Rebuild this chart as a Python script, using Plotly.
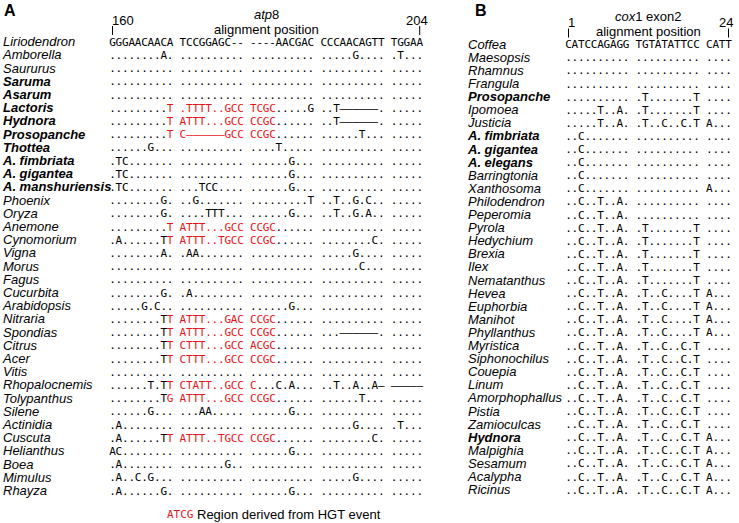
import plotly.graph_objects as go

# ---------------- panel A : atp8, alignment positions 160-204 ----------------
species_a = ["Liriodendron", "Amborella", "Saururus", "Saruma", "Asarum", "Lactoris",
             "Hydnora", "Prosopanche", "Thottea", "A. fimbriata", "A. gigantea",
             "A. manshuriensis", "Phoenix", "Oryza", "Anemone", "Cynomorium", "Vigna",
             "Morus", "Fagus", "Cucurbita", "Arabidopsis", "Nitraria", "Spondias",
             "Citrus", "Acer", "Vitis", "Rhopalocnemis", "Tolypanthus", "Silene",
             "Actinidia", "Cuscuta", "Helianthus", "Boea", "Mimulus", "Rhayza"]
bold_a = ["Saruma", "Asarum", "Lactoris", "Hydnora", "Prosopanche", "Thottea",
          "A. fimbriata", "A. gigantea", "A. manshuriensis"]
seqs_a = [
    "GGGAACAACA TCCGGAGC-- ----AACGAC CCCAACAGTT TGGAA",
    "........A. .......... .......... .....G.... .T...",
    ".......... .......... .......... .......... .....",
    ".......... .......... .......... .......... .....",
    ".......... .......... .......... .......... .....",
    ".........T .TTTT..GCC TCGC.....G ..T------. .....",
    ".........T ATTT...GCC CCGC...... ..T------. .....",
    ".........T C------GCC CCGC...... ......T... .....",
    "......G... .......... ....T..... .......... .....",
    ".TC....... .......... ......G... .......... .....",
    ".TC....... .......... ......G... .......... .....",
    ".TC....... ...TCC.... ......G... .......... .....",
    "........G. ..G....... .........T ..T..G.C.. .....",
    "........G. ....TTT... ......G... ..T..G.A.. .....",
    ".........T ATTT...GCC CCGC...... .......... .....",
    ".A......TT ATTT..TGCC CCGC...... ........C. .....",
    "........A. .AA....... .......... .....G.... .....",
    ".......... .......... .......... ......C... .....",
    ".......... .......... .......... .......... .....",
    "........G. .A........ .......... .......... .....",
    ".....G.C.. .......... ......G... .......... .....",
    "........TT ATTT...GAC CCGC...... .......... .....",
    "........TT ATTT...GCC CCGC...... ...------. .....",
    "........TT CTTT...GCC ACGC...... .......... .....",
    "........TT CTTT...GCC CCGC...... .......... .....",
    ".......... .......... .......... .......... .....",
    "......T.TT CTATT..GCC C...C.A... ..T..A..A- -----",
    "........TG ATTT...GCC CCGC...... ......T... .....",
    "......G... ...AA..... ......G... .......... .....",
    ".A........ .......... .......... .....G.... .T...",
    ".A......TT ATTT..TGCC CCGC...... ........C. .....",
    "AC........ .......... ......G... .......... .....",
    ".A........ .......G.. .......... .......... .....",
    ".A..C.G... .......... .......... .....G.... .....",
    ".A......G. .......... ......G... .......... .....",
]
# alignment columns (first, last) derived from the HGT event
hgt_a = {"Lactoris": (9, 23), "Hydnora": (9, 23), "Prosopanche": (9, 23),
         "Anemone": (9, 23), "Cynomorium": (9, 23), "Nitraria": (9, 23),
         "Spondias": (9, 23), "Citrus": (9, 23), "Acer": (9, 23),
         "Rhopalocnemis": (9, 20), "Tolypanthus": (9, 23), "Cuscuta": (9, 23)}
ticks_a = [("160", 0), ("204", 44)]

# ---------------- panel B : cox1 exon2, alignment positions 1-24 ----------------
species_b = ["Coffea", "Maesopsis", "Rhamnus", "Frangula", "Prosopanche", "Ipomoea",
             "Justicia", "A. fimbriata", "A. gigantea", "A. elegans", "Barringtonia",
             "Xanthosoma", "Philodendron", "Peperomia", "Pyrola", "Hedychium", "Brexia",
             "Ilex", "Nematanthus", "Hevea", "Euphorbia", "Manihot", "Phyllanthus",
             "Myristica", "Siphonochilus", "Couepia", "Linum", "Amorphophallus",
             "Pistia", "Zamioculcas", "Hydnora", "Malpighia", "Sesamum", "Acalypha",
             "Ricinus"]
bold_b = ["Prosopanche", "A. fimbriata", "A. gigantea", "A. elegans", "Hydnora"]
seqs_b = [
    "CATCCAGAGG TGTATATTCC CATT",
    ".......... .......... ....",
    ".......... .......... ....",
    ".......... .......... ....",
    ".......... .T.......T ....",
    ".....T..A. .T.......T ....",
    ".....T..A. .T..C..C.T A...",
    "..C....... .......... ....",
    "..C....... .......... ....",
    "..C....... .......... ....",
    "..C....... .......... ....",
    "..C....... .......... A...",
    "..C..T..A. .......... ....",
    "..C..T..A. .......... ....",
    "..C..T..A. .T.......T ....",
    "..C..T..A. .T.......T ....",
    "..C..T..A. .T.......T ....",
    "..C..T..A. .T.......T ....",
    "..C..T..A. .T.......T ....",
    "..C..T..A. .T..C....T A...",
    "..C..T..A. .T..C....T A...",
    "..C..T..A. .T..C....T A...",
    "..C..T..A. .T..C....T A...",
    "..C..T..A. .T..C..C.T ....",
    "..C..T..A. .T..C..C.T ....",
    "..C..T..A. .T..C..C.T ....",
    "..C..T..A. .T..C..C.T ....",
    "..C..T..A. .T..C..C.T ....",
    "..C..T..A. .T..C..C.T ....",
    "..C..T..A. .T..C..C.T ....",
    "..C..T..A. .T..C..C.T A...",
    "..C..T..A. .T..C..C.T A...",
    "..C..T..A. .T..C..C.T A...",
    "..C..T..A. .T..C..C.T A...",
    "..C..T..A. .T..C..C.T A...",
]
hgt_b = {}
ticks_b = [("1", 0), ("24", 23)]

RED = "#e8141b"
SANS = "Liberation Sans, Arial, sans-serif"
MONO = "DejaVu Sans Mono, monospace"

fig = go.Figure()


def col_x(x0, pitch, c):
    # blocks of ten columns separated by one blank cell
    return x0 + (c + c // 10) * pitch


def add_panel(fig, species, bold, seqs, hgt, ticks, name_x, seq_x, y0, dy, pitch,
              gene, letter, letter_x):
    ys = [y0 + i * dy for i in range(len(species))]
    labels = [f"<b><i>{s}</i></b>" if s in bold else f"<i>{s}</i>" for s in species]
    fig.add_trace(go.Scatter(x=[name_x] * len(species), y=ys, text=labels, mode="text",
                             textposition="middle right",
                             textfont=dict(family=SANS, size=13, color="black"),
                             hoverinfo="skip"))
    xs, yy, chars, cols = [], [], [], []
    for i, (sp, seq) in enumerate(zip(species, seqs)):
        seq = seq.replace(" ", "")
        lo, hi = hgt.get(sp, (-1, -1))
        for c, ch in enumerate(seq):
            # gaps in the reference row are short hyphens, elsewhere a solid rule
            if ch == "-" and i > 0:
                ch = "—"
            xs.append(col_x(seq_x, pitch, c))
            yy.append(ys[i])
            chars.append(ch)
            cols.append(RED if lo <= c <= hi else "black")
    fig.add_trace(go.Scatter(x=xs, y=yy, text=chars, mode="text",
                             textposition="middle center",
                             textfont=dict(family=MONO, size=11, color=cols),
                             hoverinfo="skip"))
    # position ticks
    ncols = len(seqs[0].replace(" ", ""))
    for lab, c in ticks:
        tx = col_x(seq_x, pitch, c)
        fig.add_trace(go.Scatter(x=[tx, tx], y=[y0 - 17, y0 - 8], mode="lines",
                                 line=dict(color="black", width=1), hoverinfo="skip"))
        first = c == 0
        fig.add_annotation(x=tx, y=y0 - 23, text=lab, showarrow=False,
                           font=dict(family=SANS, size=13, color="black"),
                           xanchor="left" if first else "center", xshift=-3)
    mid = (col_x(seq_x, pitch, 0) + col_x(seq_x, pitch, ncols - 1)) / 2
    fig.add_annotation(x=mid, y=y0 - 29, text=f"<i>{gene[0]}</i>{gene[1]}", showarrow=False,
                       font=dict(family=SANS, size=13, color="black"))
    fig.add_annotation(x=mid, y=y0 - 14, text="alignment position", showarrow=False,
                       font=dict(family=SANS, size=13, color="black"))
    fig.add_annotation(x=letter_x, y=10, text=f"<b>{letter}</b>", showarrow=False,
                       xanchor="left", font=dict(family=SANS, size=16, color="black"))


add_panel(fig, species_a, bold_a, seqs_a, hgt_a, ticks_a, name_x=3, seq_x=112.5,
          y0=43, dy=13.2, pitch=6.4, gene=("atp", "8"), letter="A", letter_x=2)
add_panel(fig, species_b, bold_b, seqs_b, hgt_b, ticks_b, name_x=468, seq_x=568.5,
          y0=45.5, dy=13.1, pitch=6.4, gene=("cox", "1 exon2"), letter="B", letter_x=473)

# legend for the HGT colour
fig.add_annotation(x=165, y=514, text="ATCG", showarrow=False, xanchor="left",
                   font=dict(family=MONO, size=11, color=RED))
fig.add_annotation(x=195, y=514, text="Region derived from HGT event", showarrow=False,
                   xanchor="left", font=dict(family=SANS, size=13, color="black"))

fig.update_layout(
    width=739, height=523,
    margin=dict(l=0, r=0, t=0, b=0),
    paper_bgcolor="white", plot_bgcolor="white",
    showlegend=False, hovermode=False,
    xaxis=dict(range=[0, 739], visible=False, fixedrange=True),
    yaxis=dict(range=[523, 0], visible=False, fixedrange=True),
)

# the page body has a default 8px margin; drop it so the figure sits at the corner
fig.write_html("out.html", config={"displayModeBar": False},
               post_script="document.body.style.margin='0px';")
